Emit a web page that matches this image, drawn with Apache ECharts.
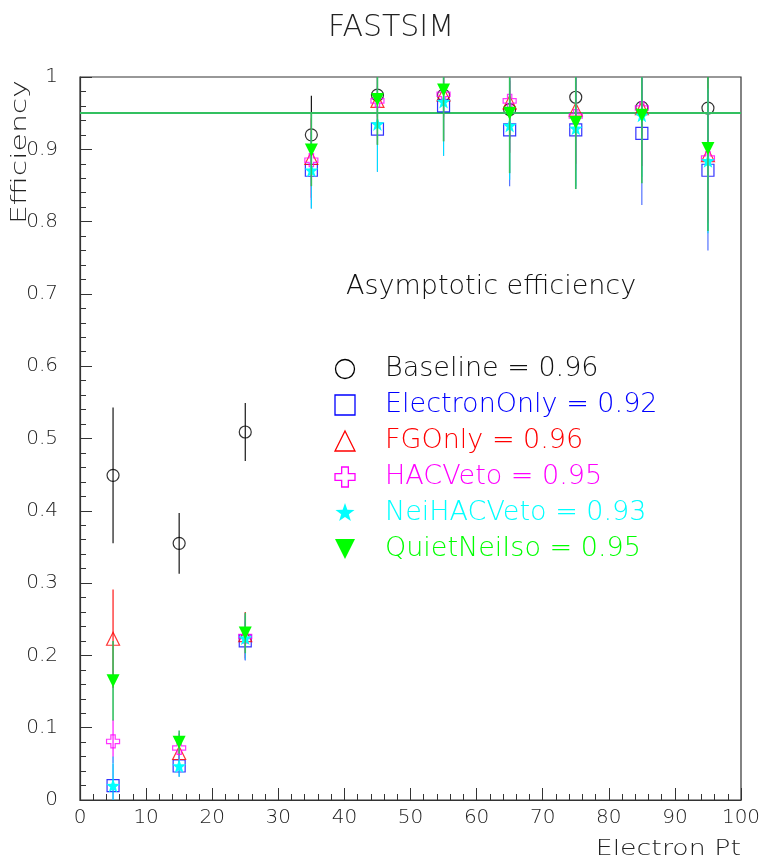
<!DOCTYPE html>
<html>
<head>
<meta charset="utf-8">
<script src="https://cdn.jsdelivr.net/npm/echarts@6/dist/echarts.min.js"></script>
<style>html,body{margin:0;padding:0;background:#fff}#c{width:767px;height:860px}</style>
</head>
<body>
<div id="c"></div>
<script>
// ---- data ----
var ptBins = [5, 15, 25, 35, 45, 55, 65, 75, 85, 95];
var seriesNames = ['Baseline', 'ElectronOnly', 'FGOnly', 'HACVeto', 'NeiHACVeto', 'QuietNeiIso'];
var asymptotic = [0.96, 0.92, 0.96, 0.95, 0.93, 0.95];
var plateau = 0.95;
var baseline    = [0.449, 0.355, 0.509, 0.920, 0.975, 0.975, 0.955, 0.972, 0.958, 0.957];
var baselineErr = [0.094, 0.042, 0.040, 0.054, 0.030, 0.030, 0.040, 0.040, 0.040, 0.050];
var electron    = [0.020, 0.047, 0.220, 0.871, 0.928, 0.960, 0.927, 0.927, 0.922, 0.871];
var electronErr = [0.030, 0.015, 0.027, 0.053, 0.059, 0.069, 0.078, 0.082, 0.099, 0.111];
var fgOnly      = [0.223, 0.065, 0.228, 0.888, 0.967, 0.976, 0.965, 0.955, 0.957, 0.892];
var fgOnlyErr   = [0.068, 0.020, 0.032, 0.055, 0.060, 0.065, 0.070, 0.075, 0.080, 0.090];
var hacVeto     = [0.081, 0.072, 0.226, 0.885, 0.967, 0.976, 0.967, 0.946, 0.957, 0.888];
var hacVetoErr  = [0.030, 0.020, 0.032, 0.055, 0.060, 0.065, 0.070, 0.075, 0.080, 0.090];
var neiHac      = [0.020, 0.047, 0.224, 0.871, 0.935, 0.966, 0.933, 0.929, 0.947, 0.884];
var neiHacErr   = [0.040, 0.015, 0.030, 0.053, 0.066, 0.075, 0.075, 0.080, 0.085, 0.100];
var quiet       = [0.165, 0.080, 0.231, 0.899, 0.969, 0.982, 0.950, 0.937, 0.947, 0.901];
var quietErr    = [0.055, 0.016, 0.028, 0.050, 0.063, 0.071, 0.083, 0.092, 0.094, 0.114];
var yTicks = [0, 0.1, 0.2, 0.3, 0.4, 0.5, 0.6, 0.7, 0.8, 0.9, 1];

// ---- marker shapes (unit coordinates, -1..1) ----
var FONT = 'DejaVu Sans';
var FW = 200;
var starPts = [];
for (var i = 0; i < 10; i++) {
  var r = i % 2 === 0 ? 1 : 0.4;
  var a = -Math.PI / 2 + i * Math.PI / 5;
  starPts.push([r * Math.cos(a), r * Math.sin(a)]);
}
var plusPts = [[-1/3,-1],[1/3,-1],[1/3,-1/3],[1,-1/3],[1,1/3],[1/3,1/3],[1/3,1],[-1/3,1],[-1/3,1/3],[-1,1/3],[-1,-1/3],[-1/3,-1/3]];
var triPts = [[0,-1],[1,1],[-1,1]];
var invTriPts = [[-1,-1],[1,-1],[0,1]];
function toPath(pts) {
  return 'path://' + pts.map(function (p, j) { return (j ? 'L' : 'M') + p[0].toFixed(4) + ',' + p[1].toFixed(4); }).join(' ') + ' Z';
}

var defs = [
  {vals: baseline, errs: baselineErr, color: '#000000', line: '#000000', symbol: 'circle', size: 12, hollow: true},
  {vals: electron, errs: electronErr, color: '#0000ff', line: '#4466ff', symbol: 'rect', size: 12, hollow: true},
  {vals: fgOnly, errs: fgOnlyErr, color: '#ff0000', line: '#ff0000', pts: triPts, size: 13, hollow: true},
  {vals: hacVeto, errs: hacVetoErr, color: '#ff00ff', line: '#ff00ff', pts: plusPts, size: 13, hollow: true},
  {vals: neiHac, errs: neiHacErr, color: '#00ffff', line: '#00ddff', pts: starPts, size: 14, hollow: false},
  {vals: quiet, errs: quietErr, color: '#00ff00', line: '#33c060', pts: invTriPts, size: 13, hollow: false}
];

var series = [];
defs.forEach(function (d, k) {
  var errData = ptBins.map(function (x, i) { return [x, d.vals[i], d.errs[i]]; });
  series.push({
    type: 'custom', name: seriesNames[k] + '_err', z: 2 + k * 2, clip: true, silent: true,
    data: errData,
    renderItem: (function (col, lw) {
      return function (params, api) {
        var x = api.value(0), y = api.value(1), e = api.value(2);
        var p1 = api.coord([x, y - e]), p2 = api.coord([x, y + e]);
        return {type: 'line', shape: {x1: p1[0], y1: p1[1], x2: p2[0], y2: p2[1]},
                style: {stroke: col, lineWidth: lw}};
      };
    })(d.line, k === 5 ? 1.6 : 1.1)
  });
  series.push({
    type: 'scatter', name: seriesNames[k], z: 3 + k * 2, silent: true,
    data: ptBins.map(function (x, i) { return [x, d.vals[i]]; }),
    symbol: d.pts ? toPath(d.pts) : d.symbol, symbolSize: d.size, symbolKeepAspect: false,
    itemStyle: d.hollow ? {color: 'rgba(0,0,0,0)', borderColor: d.color, borderWidth: 1.2}
                        : {color: d.color, borderWidth: 0, opacity: 1}
  });
});
series.push({
  type: 'line', name: 'plateau', z: 20, silent: true, data: [],
  markLine: {silent: true, symbol: 'none', label: {show: false},
    lineStyle: {color: '#33c060', width: 2, type: 'solid'},
    data: [{yAxis: plateau}]}
});

// legend & titles as graphics
function txt(t, x, y, size, color, extra) {
  var o = {type: 'text', x: x, y: y, z: 50, silent: true,
    style: {text: t, fontSize: size, fontFamily: FONT, fontWeight: FW, fill: color, textVerticalAlign: 'middle'}};
  if (extra) { for (var key in extra) { if (key === 'style') { for (var s in extra.style) o.style[s] = extra.style[s]; } else o[key] = extra[key]; } }
  return o;
}
var graphics = [];
graphics.push(txt('FASTSIM', 391, 28, 30, '#222', {style: {textAlign: 'center'}}));
graphics.push(txt('Asymptotic efficiency', 346, 287, 27, '#111'));
var rowY0 = 369, rowDy = 36;
defs.forEach(function (d, k) {
  var cy = rowY0 + k * rowDy, cx = 345, h = 10;
  var st = d.hollow ? {fill: 'none', stroke: d.color, lineWidth: 1.3} : {fill: d.color};
  var el;
  if (d.symbol === 'circle') {
    el = {type: 'circle', shape: {cx: cx, cy: cy, r: 9.5}, style: st};
  } else if (d.symbol === 'rect') {
    el = {type: 'rect', shape: {x: cx - h, y: cy - h, width: 2 * h, height: 2 * h}, style: st};
  } else {
    el = {type: 'polygon', shape: {points: d.pts.map(function (p) { return [cx + p[0] * h, cy + p[1] * h]; })}, style: st};
  }
  el.z = 50; el.silent = true;
  graphics.push(el);
  graphics.push(txt(seriesNames[k] + ' = ' + asymptotic[k].toFixed(2), 385, cy, 27, d.color === '#000000' ? '#111' : d.color));
});
graphics.push(txt('Electron Pt', 741, 849, 22, '#222', {scaleX: 1.22, style: {textAlign: 'right'}}));
graphics.push(txt('Efficiency', 20, 80, 22, '#222', {rotation: Math.PI / 2, scaleX: 1.36, style: {textAlign: 'right'}}));

var chart = echarts.init(document.getElementById('c'), null, {renderer: 'canvas'});
chart.setOption({
  animation: false,
  backgroundColor: '#ffffff',
  grid: {left: 80, right: 26, top: 77, bottom: 60, show: true, borderColor: '#333', borderWidth: 1.2, backgroundColor: 'transparent'},
  xAxis: {
    type: 'value', min: 0, max: 100, interval: 10,
    axisLine: {show: true, onZero: false, lineStyle: {color: '#333', width: 1.2}},
    axisTick: {show: true, inside: true, length: 12, lineStyle: {color: '#333'}},
    minorTick: {show: true, splitNumber: 5, length: 6, lineStyle: {color: '#333'}},
    splitLine: {show: false},
    axisLabel: {color: '#222', fontFamily: FONT, fontWeight: FW, fontSize: 20, margin: 8}
  },
  yAxis: {
    type: 'value', min: yTicks[0], max: yTicks[yTicks.length - 1], interval: 0.1,
    axisLine: {show: true, onZero: false, lineStyle: {color: '#333', width: 1.2}},
    axisTick: {show: true, inside: true, length: 12, lineStyle: {color: '#333'}},
    minorTick: {show: true, splitNumber: 5, length: 6, lineStyle: {color: '#333'}},
    splitLine: {show: false},
    axisLabel: {color: '#222', fontFamily: FONT, fontWeight: FW, fontSize: 20, margin: 22,
      formatter: function (v) { return String(Math.round(v * 10) / 10); }}
  },
  series: series,
  graphic: graphics
});
</script>
</body>
</html>
